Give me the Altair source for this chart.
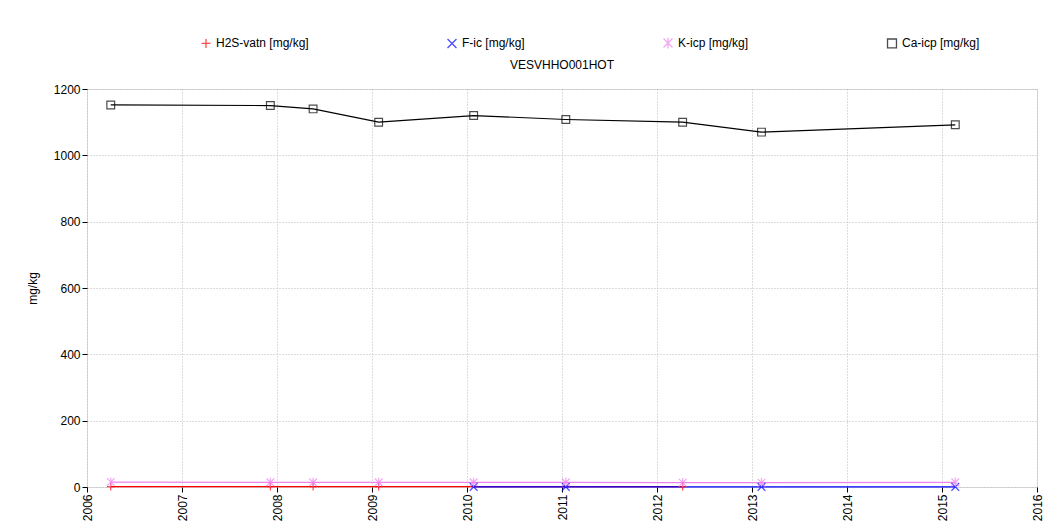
import altair as alt
import pandas as pd

dates_all = [2006.25, 2007.93, 2008.38, 2009.07, 2010.07, 2011.04, 2012.27, 2013.1, 2015.14]
ca_vals = [1152, 1150, 1140, 1100, 1120, 1108, 1100, 1070, 1092]
k_vals = [15, 14, 14, 14, 14, 14, 13, 13, 14]
h2s_dates = [2006.25, 2007.93, 2008.38, 2009.07, 2012.27]
h2s_vals = [1, 1, 1, 1, 1]
f_dates = [2010.07, 2011.04, 2013.1, 2015.14]
f_vals = [0.5, 0.5, 0.5, 0.5]

series = ["H2S-vatn [mg/kg]", "F-ic [mg/kg]", "K-icp [mg/kg]", "Ca-icp [mg/kg]"]
colors = ["#ff0000", "#0000ff", "#ee82ee", "#000000"]
shapes = ["M-1,0L1,0M0,-1L0,1", "M-1,-1L1,1M-1,1L1,-1",
          "M-1,-1L1,1M-1,1L1,-1M0,-1.2L0,1.2", "square"]

rows = []
for d, v in zip(h2s_dates, h2s_vals):
    rows.append({"year": d, "value": v, "series": series[0]})
for d, v in zip(f_dates, f_vals):
    rows.append({"year": d, "value": v, "series": series[1]})
for d, v in zip(dates_all, k_vals):
    rows.append({"year": d, "value": v, "series": series[2]})
for d, v in zip(dates_all, ca_vals):
    rows.append({"year": d, "value": v, "series": series[3]})
df = pd.DataFrame(rows)

x = alt.X("year:Q", scale=alt.Scale(domain=[2006, 2016], nice=False),
          axis=alt.Axis(values=list(range(2006, 2017)), format="d", labelAngle=-90,
                        title=None, grid=True, gridDash=[1, 2], gridColor="#bbbbbb",
                        labelFontSize=12, labelAlign="right", labelBaseline="middle",
                        domain=False, tickColor="#000"))
y = alt.Y("value:Q", scale=alt.Scale(domain=[0, 1200], nice=False),
          axis=alt.Axis(values=list(range(0, 1201, 200)), format="d", title="mg/kg", grid=True,
                        gridDash=[1, 2], gridColor="#bbbbbb", labelFontSize=12,
                        titleFontWeight="normal", titleFontSize=12, titlePadding=14,
                        domain=False, tickColor="#000"))
color = alt.Color("series:N", scale=alt.Scale(domain=series, range=colors),
                  legend=alt.Legend(title=None, orient="none", direction="horizontal",
                                    legendX=113, legendY=-52, labelFontSize=12,
                                    columnPadding=135, symbolSize=80, symbolStrokeWidth=1.3))
shape = alt.Shape("series:N", scale=alt.Scale(domain=series, range=shapes), legend=None)

lines = alt.Chart(df).mark_line(strokeWidth=1.2).encode(x=x, y=y, color=color, detail="series:N")
pts = alt.Chart(df).mark_point(filled=False, size=60, strokeWidth=1.2).encode(
    x=x, y=y, color=color, shape=shape)

chart = (lines + pts).properties(
    width=950, height=398,
    title=alt.TitleParams("VESVHHO001HOT", fontSize=12, fontWeight="normal", offset=12, dy=47),
    autosize="none",
    padding={"left": 79, "top": 81, "right": 12, "bottom": 36},
).configure_view(stroke="#000", strokeWidth=1).configure(font="Liberation Sans")

chart.save("out.html", embed_options={"renderer": "svg", "actions": False})
